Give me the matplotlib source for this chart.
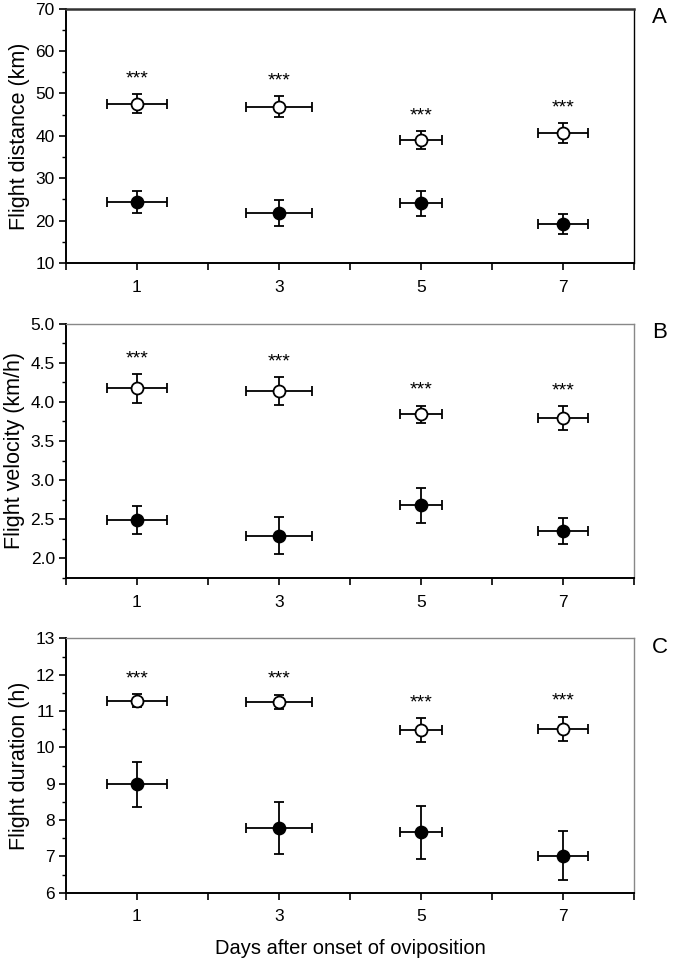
import matplotlib
matplotlib.use("Agg")
import matplotlib.pyplot as plt
from matplotlib.ticker import MultipleLocator

plt.rcParams['font.family'] = ['Liberation Sans', 'DejaVu Sans']

days = [1, 3, 5, 7]
day_err = [0.42, 0.47, 0.29, 0.35]

# flight distance (km)
dist_open = [47.6, 46.9, 39.1, 40.7]
dist_open_err = [2.3, 2.4, 2.1, 2.3]
dist_fill = [24.4, 21.8, 24.1, 19.25]
dist_fill_err = [2.5, 3.1, 3.0, 2.4]

# flight velocity (km/h)
vel_open = [4.17, 4.14, 3.84, 3.79]
vel_open_err = [0.18, 0.18, 0.11, 0.15]
vel_fill = [2.485, 2.29, 2.677, 2.353]
vel_fill_err = [0.18, 0.24, 0.225, 0.165]

# flight duration (h)
dur_open = [11.28, 11.25, 10.47, 10.52]
dur_open_err = [0.18, 0.2, 0.33, 0.33]
dur_fill = [8.98, 7.79, 7.66, 7.02]
dur_fill_err = [0.61, 0.72, 0.72, 0.67]

sig_labels = ['***', '***', '***', '***']

panels = [
    ('A', 'Flight distance (km)', dist_open, dist_open_err, dist_fill, dist_fill_err,
     (10, 70), 10, 5, '%d'),
    ('B', 'Flight velocity (km/h)', vel_open, vel_open_err, vel_fill, vel_fill_err,
     (1.75, 5.0), 0.5, 0.25, '%.1f'),
    ('C', 'Flight duration (h)', dur_open, dur_open_err, dur_fill, dur_fill_err,
     (6, 13), 1, 0.5, '%d'),
]

fig = plt.figure(figsize=(6.76, 9.6), dpi=100)
boxes = [(0.0976, 0.726, 0.8404, 0.265),
         (0.0976, 0.398, 0.8404, 0.265),
         (0.0976, 0.070, 0.8404, 0.265)]

for i, (letter, ylab, yo, yoe, yf, yfe, ylim, major, minor, fmt) in enumerate(panels):
    ax = fig.add_axes(boxes[i])
    eb = dict(fmt='o', color='black', ms=8.6, mec='black', mew=1.3,
              ecolor='black', elinewidth=1.3, capsize=3.3, capthick=1.5, zorder=3)
    ax.errorbar(days, yo, yerr=yoe, xerr=day_err, mfc='white', **eb)
    ax.errorbar(days, yf, yerr=yfe, xerr=day_err, mfc='black', **eb)
    for x, y, e, s in zip(days, yo, yoe, sig_labels):
        ax.annotate(s, (x, y + e), xytext=(0, 11), textcoords='offset points',
                    ha='center', va='center', fontsize=14)

    ax.set_xlim(0, 8)
    ax.set_ylim(*ylim)
    ax.set_xticks(range(0, 9))
    ax.set_xticklabels([str(d) if d % 2 == 1 else '' for d in range(0, 9)])
    ax.yaxis.set_major_locator(MultipleLocator(major))
    ax.yaxis.set_minor_locator(MultipleLocator(minor))
    ax.yaxis.set_major_formatter(plt.FormatStrFormatter(fmt))
    ax.tick_params(axis='both', which='major', direction='out', length=5,
                   width=1.2, labelsize=12.5, right=False, top=False)
    ax.tick_params(axis='y', which='minor', direction='out', length=3, width=1.0)
    ax.tick_params(axis='x', pad=7)
    ax.tick_params(axis='y', pad=3)

    for side in ('left', 'bottom'):
        ax.spines[side].set_linewidth(1.4)
        ax.spines[side].set_color('black')
    if letter == 'A':
        ax.spines['top'].set_color('#333333')
        ax.spines['top'].set_linewidth(1.8)
        ax.spines['right'].set_color('black')
        ax.spines['right'].set_linewidth(1.0)
    else:
        for side in ('top', 'right'):
            ax.spines[side].set_color('#888888')
            ax.spines[side].set_linewidth(1.0)

    ax.set_ylabel(ylab, fontsize=15.5, labelpad=4)
    ax.text(1.045, 0.965, letter, transform=ax.transAxes, fontsize=16,
            ha='center', va='center')

fig.text(0.518, 1 - 948 / 960, 'Days after onset of oviposition', fontsize=14.5,
         ha='center', va='center')

fig.savefig('out.png', dpi=100)
